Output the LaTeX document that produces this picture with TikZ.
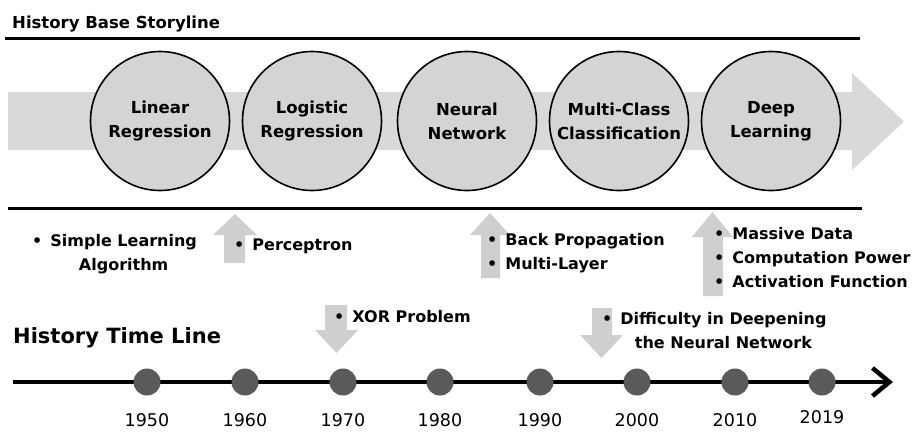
\documentclass[tikz,border=0pt]{standalone}
\usepackage{fontspec}
\setmainfont{DejaVu Sans}
\usepackage{xcolor}
\usepackage{tikz}
\usetikzlibrary{arrows.meta}
\usetikzlibrary{positioning}
\definecolor{bandgray}{HTML}{D9D9D9}
\definecolor{circgray}{HTML}{D5D3D3}
\definecolor{arrowgray}{HTML}{CFCFCF}
\definecolor{dotgray}{HTML}{5A5A5A}
\tikzset{
    tnode/.style = {align=center, inner sep=0pt, text centered},
    story_node/.style = {tnode, circle, draw=black, fill=circgray, line width=1.6pt, minimum size=139pt, font=\bfseries\fontsize{16.5}{24}\selectfont},
    head_text/.style = {inner sep=0pt, anchor=base west, font=\bfseries\fontsize{16.5}{20}\selectfont},
    note/.style = {inner sep=0pt, anchor=west, font=\bfseries\fontsize{16}{24}\selectfont},
    year_dot/.style = {circle, fill=dotgray, minimum size=27pt, inner sep=0pt},
    year_label/.style = {inner sep=0pt, font=\fontsize{17.5}{20}\selectfont},
    rule_line/.style = {line width=3pt},
    time_line/.style = {line width=4.5pt, ->},
    block_arrow/.style = {fill=arrowgray, draw=none}
}

\begin{document}
\begin{tikzpicture}
            [-,>={Straight Barb[length=17pt,width=28pt]},
            x=1pt, y=-1pt]

            \useasboundingbox (0,0) rectangle (921,432);

            % storyline band
            \fill[bandgray] (8,92) -- (852,92) -- (852,73) -- (904,121.5) -- (852,170) -- (852,150) -- (8,150) -- cycle;

            \node [story_node] (linreg) at (160,121) {Linear\\Regression};
            \node [story_node] (logreg) at (312,121) {Logistic\\Regression};
            \node [story_node] (neunet) at (467,121) {Neural\\Network};
            \node [story_node] (multicls) at (619,121) {Multi-Class\\Classification};
            \node [story_node] (deeplrn) at (771,121) {Deep\\Learning};

            \node [head_text] (story_title) at (12,28) {History Base Storyline};
            \draw [rule_line] (5,38) -- (860,38);
            \draw [rule_line] (8,208) -- (862,208);

            % up and down block arrows
            \fill[block_arrow] (224,263) -- (224,235) -- (213,235) -- (235,214) -- (257,235) -- (245,235) -- (245,263) -- cycle;
            \fill[block_arrow] (481,278) -- (481,235) -- (470,235) -- (490,213) -- (510,235) -- (500,235) -- (500,278) -- cycle;
            \fill[block_arrow] (703,296) -- (703,237) -- (692,237) -- (712.5,212) -- (733,237) -- (723,237) -- (723,296) -- cycle;
            \fill[block_arrow] (325,305) -- (347,305) -- (347,330) -- (358,330) -- (336.5,353) -- (315,330) -- (325,330) -- cycle;
            \fill[block_arrow] (592,308) -- (612,308) -- (612,335) -- (623,335) -- (601.5,358) -- (580,335) -- (592,335) -- cycle;

            \node [note] (simple) at (32,254) {\begin{tabular}{@{}c@{\hspace{8pt}}c@{}}•&Simple Learning\\&Algorithm\end{tabular}};
            \node [note] (percep) at (234,246) {\begin{tabular}{@{}l@{\hspace{8pt}}l@{}}•&Perceptron\end{tabular}};
            \node [note] (backprop) at (487,253) {\begin{tabular}{@{}l@{\hspace{8pt}}l@{}}•&Back Propagation\\•&Multi-Layer\end{tabular}};
            \node [note] (massive) at (714,259) {\begin{tabular}{@{}l@{\hspace{8pt}}l@{}}•&Massive Data\\•&Computation Power\\•&Activation Function\end{tabular}};
            \node [note] (xorprob) at (334,318) {\begin{tabular}{@{}l@{\hspace{8pt}}l@{}}•&XOR Problem\end{tabular}};
            \node [note] (deepen) at (602,332) {\begin{tabular}{@{}c@{\hspace{8pt}}c@{}}•&Difficulty in Deepening\\&the Neural Network\end{tabular}};

            % time line
            \node [head_text, font=\bfseries\fontsize{21}{24}\selectfont] (time_title) at (13,343) {History Time Line};
            \coordinate (tl_start) at (13,382);
            \coordinate (tl_end) at (893,382);
            \draw [time_line] (tl_start) -- (tl_end);

            \node [year_dot] (d1950) at (147,382) {};
            \node [year_dot] (d1960) at (245,382) {};
            \node [year_dot] (d1970) at (343,382) {};
            \node [year_dot] (d1980) at (440,382) {};
            \node [year_dot] (d1990) at (540,382) {};
            \node [year_dot] (d2000) at (637,382) {};
            \node [year_dot] (d2010) at (735,382) {};
            \node [year_dot] (d2019) at (822,382) {};

            \node [year_label, below=18pt of d1950] (y1950) {1950};
            \node [year_label, below=18pt of d1960] (y1960) {1960};
            \node [year_label, below=18pt of d1970] (y1970) {1970};
            \node [year_label, below=18pt of d1980] (y1980) {1980};
            \node [year_label, below=18pt of d1990] (y1990) {1990};
            \node [year_label, below=18pt of d2000] (y2000) {2000};
            \node [year_label, below=18pt of d2010] (y2010) {2010};
            \node [year_label, below=15pt of d2019] (y2019) {2019};
        \end{tikzpicture}
\end{document}
